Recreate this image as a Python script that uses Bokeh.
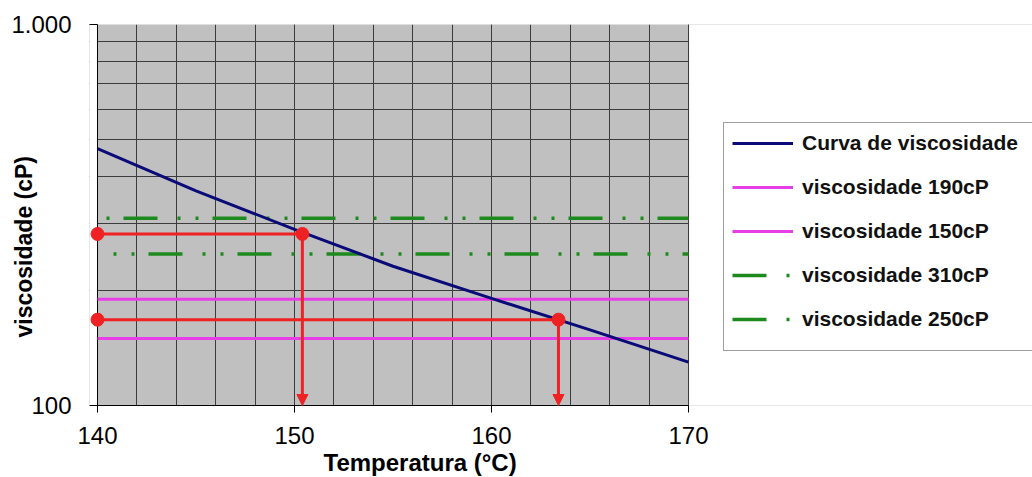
import math
from bokeh.plotting import figure
from bokeh.models import (Range1d, FixedTicker, CustomJSTickFormatter, Legend, LegendItem,
                          Title, Arrow, NormalHead, BoxAnnotation)
from bokeh.embed import file_html
from bokeh.resources import INLINE

# ---- data ----
temperature = [140, 145, 150, 155, 160, 165, 170]
viscosity = [472, 366, 290, 232, 191, 158, 130]

line_span = [140, 170]
visc_190 = [190, 190]
visc_150 = [150, 150]
visc_310 = [310, 310]
visc_250 = [250, 250]

read_temp = [150.4, 163.4]
read_visc = [282, 168]

x_ticks = [140, 150, 160, 170]
x_minor = [140, 142, 144, 146, 148, 150, 152, 154, 156, 158, 160, 162, 164, 166, 168, 170]
y_ticks = [100, 1000]
y_minor = [200, 300, 400, 500, 600, 700, 800, 900]

FONT = "Liberation Sans"
NAVY = "#0a0a78"
MAGENTA = "#e83ee8"
GREEN = "#1c8a1c"
RED = "#ee2222"
GRID = "#3c3c3c"
DASH = "34 20 3 15 3 14"

# 140..170 spans 97..688 px; the frame reaches 8 px left of 140 (room for the red
# dots) and on to the right canvas edge (room for the legend, which must sit
# inside the frame so it is not clipped).
PX_PER_UNIT = 591 / 30
X_START = line_span[0] - 8 / PX_PER_UNIT
X_END = line_span[0] + (1032 - 97) / PX_PER_UNIT

p = figure(width=1032, height=477, x_range=Range1d(X_START, X_END), y_range=Range1d(100, 1000),
           y_axis_type="log", output_backend="svg", toolbar_location=None,
           min_border_left=89, min_border_right=0, min_border_top=24, min_border_bottom=72,
           background_fill_color="#c0c0c0", border_fill_color="white",
           outline_line_color=None)

# axes
p.xaxis.ticker = FixedTicker(ticks=x_ticks, minor_ticks=x_minor)
p.xaxis.bounds = (line_span[0], line_span[1])
p.yaxis.ticker = FixedTicker(ticks=y_ticks, minor_ticks=y_minor)
p.yaxis.formatter = CustomJSTickFormatter(
    code="return Math.round(tick).toString().replace(/\\B(?=(\\d{3})+(?!\\d))/g, '.');")
for ax in (p.xaxis[0], p.yaxis[0]):
    ax.axis_line_color = "black"
    ax.axis_line_width = 1
    ax.major_tick_line_color = "black"
    ax.minor_tick_line_color = None
    ax.major_label_text_font = FONT
    ax.major_label_text_font_size = "24px"
    ax.major_label_text_color = "black"
p.xaxis.major_tick_out = 7
p.xaxis.major_tick_in = 0
p.xaxis.major_label_standoff = 14
p.yaxis.axis_line_color = None
p.yaxis.major_tick_out = 0
p.yaxis.major_tick_in = 8
p.yaxis.major_label_standoff = 14

# grids
p.xgrid.grid_line_color = GRID
p.xgrid.minor_grid_line_color = GRID
p.ygrid.grid_line_color = GRID
p.ygrid.minor_grid_line_color = GRID
for g in (p.xgrid[0], p.ygrid[0]):
    g.grid_line_alpha = 1
    g.minor_grid_line_alpha = 1
    g.grid_line_width = 1
    g.minor_grid_line_width = 1

# white areas outside the 140..170 plot area
p.add_layout(BoxAnnotation(left=X_START, right=line_span[0], fill_color="white", fill_alpha=1,
                           line_color=None, level="underlay"))
p.add_layout(BoxAnnotation(left=line_span[1] + 0.6 / PX_PER_UNIT, right=X_END,
                           fill_color="white", fill_alpha=1,
                           line_color=None, level="underlay"))

# y axis line at 140
p.line([line_span[0], line_span[0]], y_ticks, line_color="black", line_width=1)

# reference lines
r190 = p.line(line_span, visc_190, line_color=MAGENTA, line_width=3)
r150 = p.line(line_span, visc_150, line_color=MAGENTA, line_width=3)
p.line(line_span, visc_310, line_color=GREEN, line_width=3.5,
       line_dash=DASH, line_dash_offset=63)
p.line(line_span, visc_250, line_color=GREEN, line_width=3.5,
       line_dash=DASH, line_dash_offset=38)
# hidden twins used only for the legend samples (pattern starting with the dash)
leg310 = p.line(line_span, visc_310, line_color=GREEN, line_width=3.5, line_dash=DASH,
                visible=False)
leg250 = p.line(line_span, visc_250, line_color=GREEN, line_width=3.5, line_dash=DASH,
                visible=False)

# viscosity curve
curve = p.line(temperature, viscosity, line_color=NAVY, line_width=3)

# red reading lines
for t, v in zip(read_temp, read_visc):
    p.line([temperature[0], t], [v, v], line_color=RED, line_width=3)
    p.add_layout(Arrow(end=NormalHead(size=11, fill_color=RED, line_color=RED),
                       x_start=t, y_start=v, x_end=t, y_end=y_ticks[0],
                       line_color=RED, line_width=3))
p.scatter([temperature[0]] * 2 + read_temp, read_visc + read_visc, size=13,
          fill_color=RED, line_color=RED)

# legend
legend = Legend(items=[
    LegendItem(label="Curva de viscosidade", renderers=[curve]),
    LegendItem(label="viscosidade 190cP", renderers=[r190]),
    LegendItem(label="viscosidade 150cP", renderers=[r150]),
    LegendItem(label="viscosidade 310cP", renderers=[leg310]),
    LegendItem(label="viscosidade 250cP", renderers=[leg250]),
], location=(723 - 89, 54), orientation="vertical")
legend.margin = 0
legend.padding = 8
legend.spacing = 20
legend.glyph_width = 61
legend.glyph_height = 24
legend.label_height = 24
legend.label_width = 222
legend.label_standoff = 9
legend.label_text_font = FONT
legend.label_text_font_size = "21px"
legend.label_text_font_style = "bold"
legend.label_text_color = "#111111"
legend.border_line_color = "#404040"
legend.border_line_width = 1
legend.background_fill_color = "white"
legend.background_fill_alpha = 1
try:
    legend.title = " "
    legend.title_location = "below"
    legend.title_text_font_size = "8px"
    legend.title_standoff = 2
except Exception:
    legend.title = None
p.add_layout(legend)

# axis titles as side-panel titles
p.add_layout(Title(text="Temperatura (°C)", align="left", offset=234, standoff=0,
                   text_font=FONT, text_font_size="24px", text_font_style="bold",
                   text_color="black"), "below")
p.add_layout(Title(text="viscosidade (cP)", align="left", offset=68, standoff=-57,
                   text_font=FONT, text_font_size="23px", text_font_style="bold",
                   text_color="black"), "left")

open("out.html", "w").write(file_html(p, INLINE))
